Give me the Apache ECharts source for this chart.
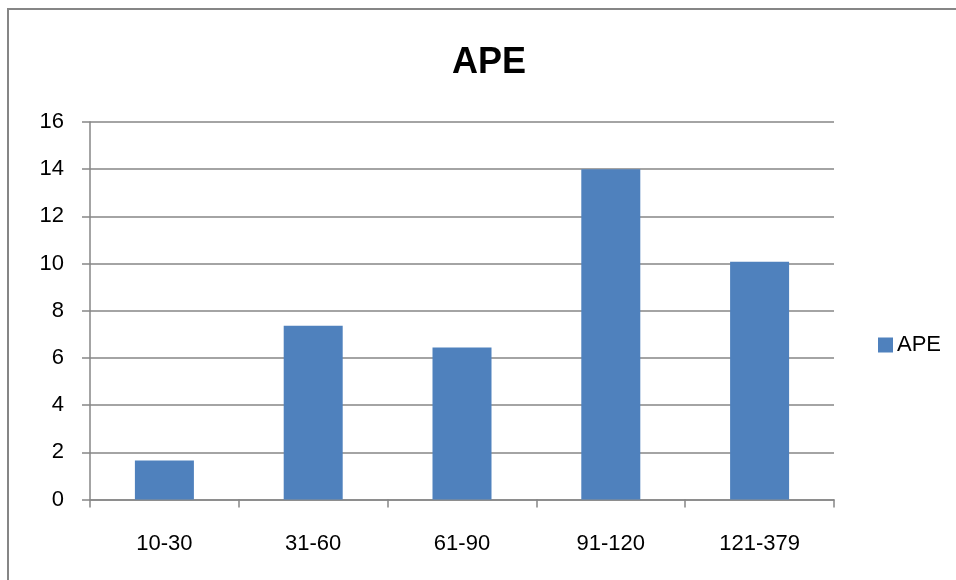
<!DOCTYPE html>
<html>
<head>
<meta charset="utf-8">
<script src="https://cdn.jsdelivr.net/npm/echarts@6/dist/echarts.min.js"></script>
<style>
html,body{margin:0;padding:0;background:#fff;}
#chart{width:956px;height:580px;}
</style>
</head>
<body>
<div id="chart"></div>
<script>
const categories = ['10-30', '31-60', '61-90', '91-120', '121-379'];
const apeValues = [1.65, 7.36, 6.44, 14.0, 10.08];
const seriesName = 'APE';
const titleText = 'APE';

const chart = echarts.init(document.getElementById('chart'));
const font = 'Liberation Sans';
chart.setOption({
  animation: false,
  backgroundColor: '#fff',
  title: {
    text: titleText,
    left: 484,
    textAlign: 'center',
    top: 40,
    textStyle: { fontFamily: font, fontSize: 36, fontWeight: 'bold', color: '#000' }
  },
  legend: {
    data: [seriesName],
    left: 873,
    top: 329,
    itemWidth: 15,
    itemHeight: 15,
    itemGap: 6,
    icon: 'rect',
    textStyle: { fontFamily: font, fontSize: 22, color: '#000', padding: [0, 0, 0, -1] }
  },
  graphic: [{
    type: 'rect',
    shape: { x: 8, y: 9, width: 1200, height: 1000 },
    style: { fill: 'none', stroke: '#868686', lineWidth: 2 },
    silent: true
  }],
  grid: { left: 90, right: 122, top: 122, bottom: 80.5, containLabel: false },
  xAxis: {
    type: 'category',
    data: categories,
    axisLine: { show: true, lineStyle: { color: '#868686', width: 1.5 } },
    axisTick: { show: true, length: 8, inside: false, alignWithLabel: false, lineStyle: { color: '#868686', width: 1.5 } },
    axisLabel: { margin: 33, fontFamily: font, fontSize: 22, color: '#000' }
  },
  yAxis: {
    type: 'value',
    min: 0,
    max: 16,
    interval: 2,
    axisLine: { show: true, lineStyle: { color: '#868686', width: 1.5 } },
    axisTick: { show: true, length: 8, lineStyle: { color: '#868686', width: 1.5 } },
    axisLabel: { margin: 26, fontFamily: font, fontSize: 22, color: '#000' },
    splitLine: { show: true, lineStyle: { color: '#868686', width: 1.5 } }
  },
  series: [{
    name: seriesName,
    type: 'bar',
    data: apeValues,
    barWidth: 59,
    itemStyle: { color: '#4F81BD' }
  }]
});
</script>
</body>
</html>
